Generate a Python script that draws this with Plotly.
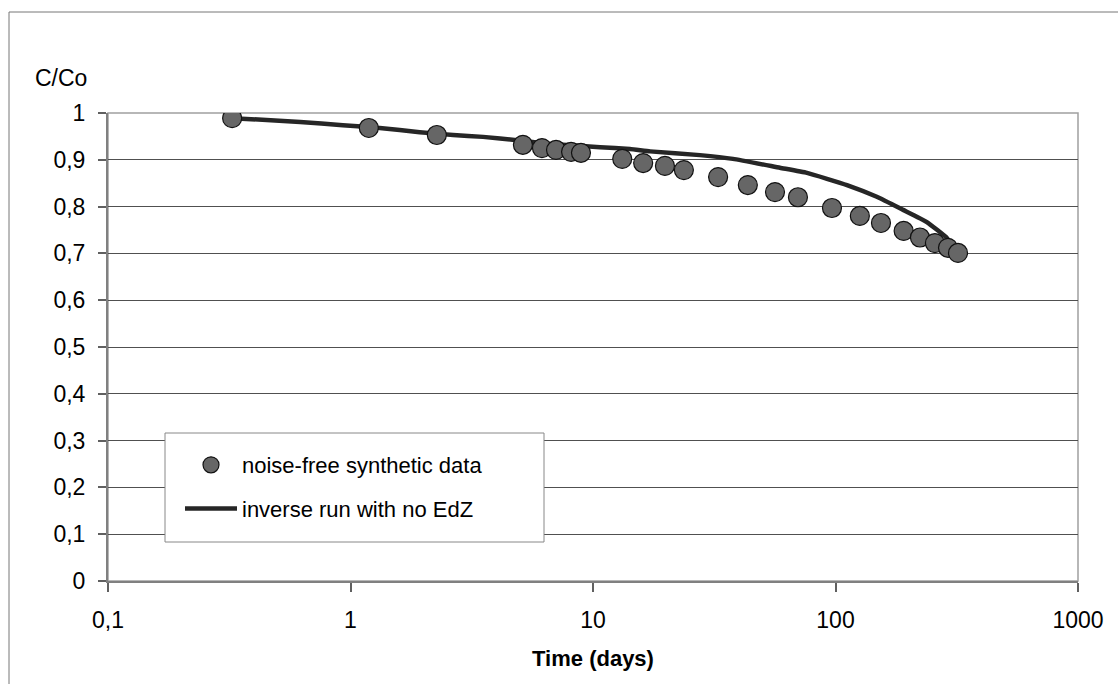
import plotly.graph_objects as go

# Data
data_time = [0.325, 1.19, 2.27, 5.14, 6.16, 7.04, 8.12, 8.92, 13.2, 16.1, 19.8, 23.7,
             32.8, 43.5, 56.3, 70.0, 96.7, 126, 154, 191, 223, 257, 291, 320]
data_conc = [0.989, 0.968, 0.953, 0.932, 0.925, 0.921, 0.917, 0.915, 0.902, 0.893, 0.887, 0.878,
             0.863, 0.846, 0.831, 0.820, 0.797, 0.780, 0.765, 0.748, 0.734, 0.722, 0.712, 0.701]

model_time = [0.325, 0.62, 0.93, 1.32, 1.93, 2.65, 3.52, 4.86, 6.65, 10.7, 14.2, 17.2,
              27.6, 37.8, 59.0, 76.3, 111.5, 148, 190, 238, 288, 298]
model_conc = [0.989, 0.981, 0.974, 0.968, 0.959, 0.953, 0.949, 0.942, 0.934, 0.927, 0.923, 0.918,
              0.910, 0.902, 0.883, 0.872, 0.846, 0.821, 0.793, 0.767, 0.733, 0.722]

x_tickvals = [0.1, 1, 10, 100, 1000]
x_ticktext = ["0,1", "1", "10", "100", "1000"]
y_tickvals = [0, 0.1, 0.2, 0.3, 0.4, 0.5, 0.6, 0.7, 0.8, 0.9, 1]
y_ticktext = ["0", "0,1", "0,2", "0,3", "0,4", "0,5", "0,6", "0,7", "0,8", "0,9", "1"]

FONT = "Liberation Sans, Arial, sans-serif"
FS = 23

fig = go.Figure()
fig.add_trace(go.Scatter(
    x=model_time, y=model_conc, mode="lines", name="inverse run with no EdZ",
    legendgroup="b", legendrank=2,
    line=dict(color="#262626", width=4.5, shape="spline", smoothing=0.4),
))
fig.add_trace(go.Scatter(
    x=data_time, y=data_conc, mode="markers", name="noise-free synthetic data",
    legendgroup="a", legendrank=1,
    marker=dict(size=19, color="#666666", line=dict(color="#111111", width=1.2)),
))

W, H = 1118, 684
L, R, T, B = 108, 1078, 113, 581
pw, ph = R - L, B - T

def px(x):
    return (x - L) / pw

def py(y):
    return (B - y) / ph

shapes = [
    # outer chart border (clipped by the page)
    dict(type="rect", xref="paper", yref="paper", x0=px(9), x1=px(1130), y0=py(700), y1=py(12),
         line=dict(color="#777777", width=1), fillcolor="rgba(0,0,0,0)", layer="below"),
    # plot frame
    dict(type="rect", xref="paper", yref="paper", x0=0, x1=1, y0=0, y1=1,
         line=dict(color="#a0a0a0", width=1.5), fillcolor="rgba(0,0,0,0)", layer="below"),
    # legend box
    dict(type="rect", xref="paper", yref="paper", x0=px(165), x1=px(544), y0=py(542), y1=py(433),
         line=dict(color="#888888", width=1), fillcolor="white", layer="above"),
]

fig.update_layout(
    width=W, height=H,
    margin=dict(l=L, r=W - R, t=T, b=H - B),
    paper_bgcolor="white", plot_bgcolor="white",
    font=dict(family=FONT, size=FS, color="black"),
    showlegend=True,
    legend=dict(
        x=px(180), y=py(444), xanchor="left", yanchor="top",
        bgcolor="rgba(0,0,0,0)", borderwidth=0,
        font=dict(family=FONT, size=FS - 1, color="black"),
        traceorder="grouped", tracegroupgap=12, itemwidth=52,
    ),
    shapes=shapes,
    annotations=[dict(text="C/Co", xref="paper", yref="paper", x=px(33), y=py(78),
                      xanchor="left", yanchor="middle", showarrow=False,
                      font=dict(family=FONT, size=FS, color="black"))],
    xaxis=dict(
        type="log", range=[-1, 3], tickvals=x_tickvals, ticktext=x_ticktext,
        showgrid=False, zeroline=False,
        showline=True, linecolor="#808080", linewidth=2,
        ticks="outside", ticklen=9, tickcolor="#606060", tickwidth=1.5,
        ticklabelstandoff=8,
        tickfont=dict(family=FONT, size=FS, color="black"),
        title=dict(text="<b>Time (days)</b>", font=dict(family=FONT, size=22, color="black"), standoff=19),
    ),
    yaxis=dict(
        range=[0, 1], tickvals=y_tickvals, ticktext=y_ticktext,
        showgrid=True, gridcolor="#505050", gridwidth=1, zeroline=False,
        showline=True, linecolor="#808080", linewidth=2,
        ticks="outside", ticklen=8, tickcolor="#606060", tickwidth=1.5,
        ticklabelstandoff=8,
        tickfont=dict(family=FONT, size=FS, color="black"),
    ),
)

fig.write_html("out.html")
